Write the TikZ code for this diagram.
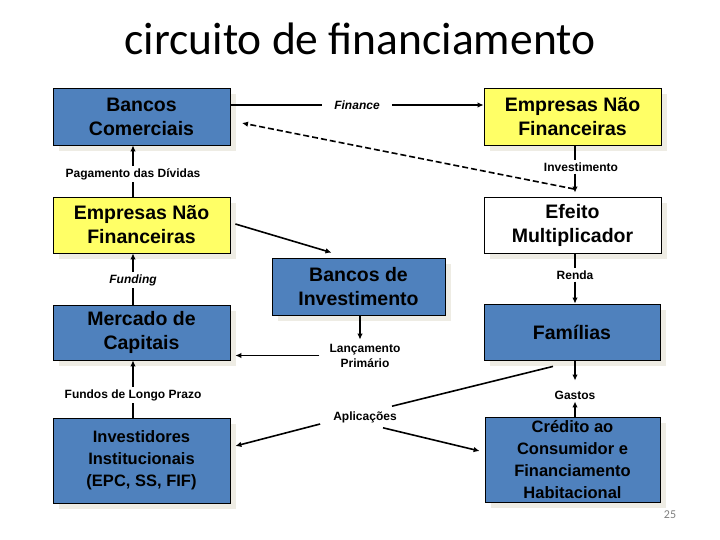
\documentclass[tikz,border=0pt]{standalone}
\usepackage{fontspec}
\setmainfont{Liberation Sans}
\newfontfamily\titlefont{Carlito}
\usetikzlibrary{arrows.meta,calc,shadows}
\definecolor{boxblue}{RGB}{79,129,189}
\definecolor{boxyellow}{RGB}{255,255,102}
\definecolor{shadowc}{RGB}{238,236,228}
\begin{document}
\begin{tikzpicture}[x=1pt,y=-1pt,
  box/.style={draw=black,line width=0.8pt,align=center,inner sep=0pt,
    font=\fontsize{19.5}{24}\selectfont\bfseries,
    drop shadow={shadow xshift=6pt,shadow yshift=-6pt,fill=shadowc,opacity=1}},
  sbox/.style={box,font=\fontsize{16.5}{22}\selectfont\bfseries},
  lbl/.style={font=\fontsize{12}{15}\selectfont\bfseries,inner sep=2pt,align=center},
  lbli/.style={font=\fontsize{12}{15}\selectfont\bfseries\itshape,inner sep=2pt,align=center},
  ln/.style={line width=1.6pt},
  arr/.style={line width=1.6pt,-{Latex[length=6pt,width=5.5pt]}}]
\fill[white] (0,0) rectangle (720,540);
\useasboundingbox (0,0) rectangle (720,540);

\node[font=\titlefont\fontsize{45.5}{50}\selectfont,anchor=base] (title) at (360,55) {circuito de financiamento};

% boxes
\node[box,fill=boxblue,minimum width=177pt,minimum height=57pt] (bc) at (141.5,116.5) {Bancos\\Comerciais};
\node[box,fill=boxyellow,minimum width=177pt,minimum height=56pt] (enfL) at (141.5,225) {Empresas Não\\Financeiras};
\node[box,fill=boxblue,minimum width=177pt,minimum height=55pt] (mc) at (141.5,332.5) {Mercado de\\Capitais};
\node[sbox,fill=boxblue,minimum width=177pt,minimum height=85pt] (ii) at (141.5,460.5) {Investidores\\Institucionais\\(EPC, SS, FIF)};
\node[box,fill=boxyellow,minimum width=177pt,minimum height=57pt] (enfR) at (572.5,116.5) {Empresas Não\\Financeiras};
\node[box,fill=white,minimum width=177pt,minimum height=56pt] (em) at (572.5,225) {Efeito\\Multiplicador};
\node[box,fill=boxblue,minimum width=173pt,minimum height=57pt] (bi) at (358.5,286.5) {Bancos de\\Investimento};
\node[box,fill=boxblue,minimum width=176pt,minimum height=56pt] (fam) at (572,332) {Famílias};
\node[sbox,fill=boxblue,minimum width=175pt,minimum height=85pt] (cred) at (572.5,459.5) {Crédito ao\\Consumidor e\\Financiamento\\Habitacional};

% labels
\node[lbl] (lp) at (133,174) {Pagamento das Dívidas};
\node[lbli] (lf) at (133,280) {Funding};
\node[lbl] (lfl) at (133,395) {Fundos de Longo Prazo};
\node[lbli] (lfin) at (357,105) {Finance};
\node[lbl] (linv) at (581,167) {Investimento};
\node[lbl] (lr) at (575,275) {Renda};
\node[lbl] (ll) at (365,355.5) {Lançamento\\Primário};
\node[lbl] (lg) at (575,395) {Gastos};
\node[lbl] (la) at (365,417) {Aplicações};
\node[font=\titlefont\fontsize{12}{14}\selectfont,text=gray] (pg) at (670,515) {25};

\coordinate (xr) at (575,0);
\coordinate (dstart) at (574,189);
\coordinate (dend) at (242,123);

% left column
\draw[ln] (enfL.north -| lp) -- (lp.south);
\draw[arr] (lp.north) -- (lp |- bc.south);
\draw[ln] (mc.north -| lf) -- (lf.south);
\draw[arr] (lf.north) -- (lf |- enfL.south);
\draw[ln] (ii.north -| lfl) -- (lfl.south);
\draw[arr] (lfl.north) -- (lfl |- mc.south);

% finance
\draw[ln] (bc.east |- lfin) -- ($(lfin.west)+(-10,0)$);
\draw[arr] ($(lfin.east)+(10,0)$) -- (enfR.west |- lfin);

% right column
\draw[ln] (enfR.south -| xr) -- (xr |- linv.north);
\draw[arr,shorten >=4pt] (xr |- linv.south) -- (xr |- em.north);
\draw[ln,dash pattern=on 6pt off 3pt,-{Latex[length=6pt,width=5.5pt]}] (dstart) -- (dend);
\draw[ln] (em.south -| xr) -- (xr |- lr.north);
\draw[arr] (xr |- lr.south) -- (fam.north -| xr);
\draw[arr,shorten >=8pt] (fam.south -| xr) -- (xr |- lg.north);
\draw[arr] (cred.north -| xr) -- (xr |- lg.south);

% middle
\draw[arr] ($(enfL.east)+(5,-1)$) -- ($(bi.north)+(-27,-5)$);
\draw[arr,shorten >=2pt] (bi.south -| 360,0) -- (360,0 |- ll.north);
\draw[arr] ($(ll.west)+(-8,0)$) -- ($(mc.east |- ll)+(5,0)$);
\draw[ln] ($(fam.south)+(-19,6)$) -- ($(la.north)+(27,-3)$);
\draw[arr] ($(la.west)+(-11,7)$) -- ($(ii.east)+(5,-14.5)$);
\draw[arr] ($(la.south)+(18,3)$) -- ($(cred.west)+(-5,-8.5)$);
\end{tikzpicture}
\end{document}
